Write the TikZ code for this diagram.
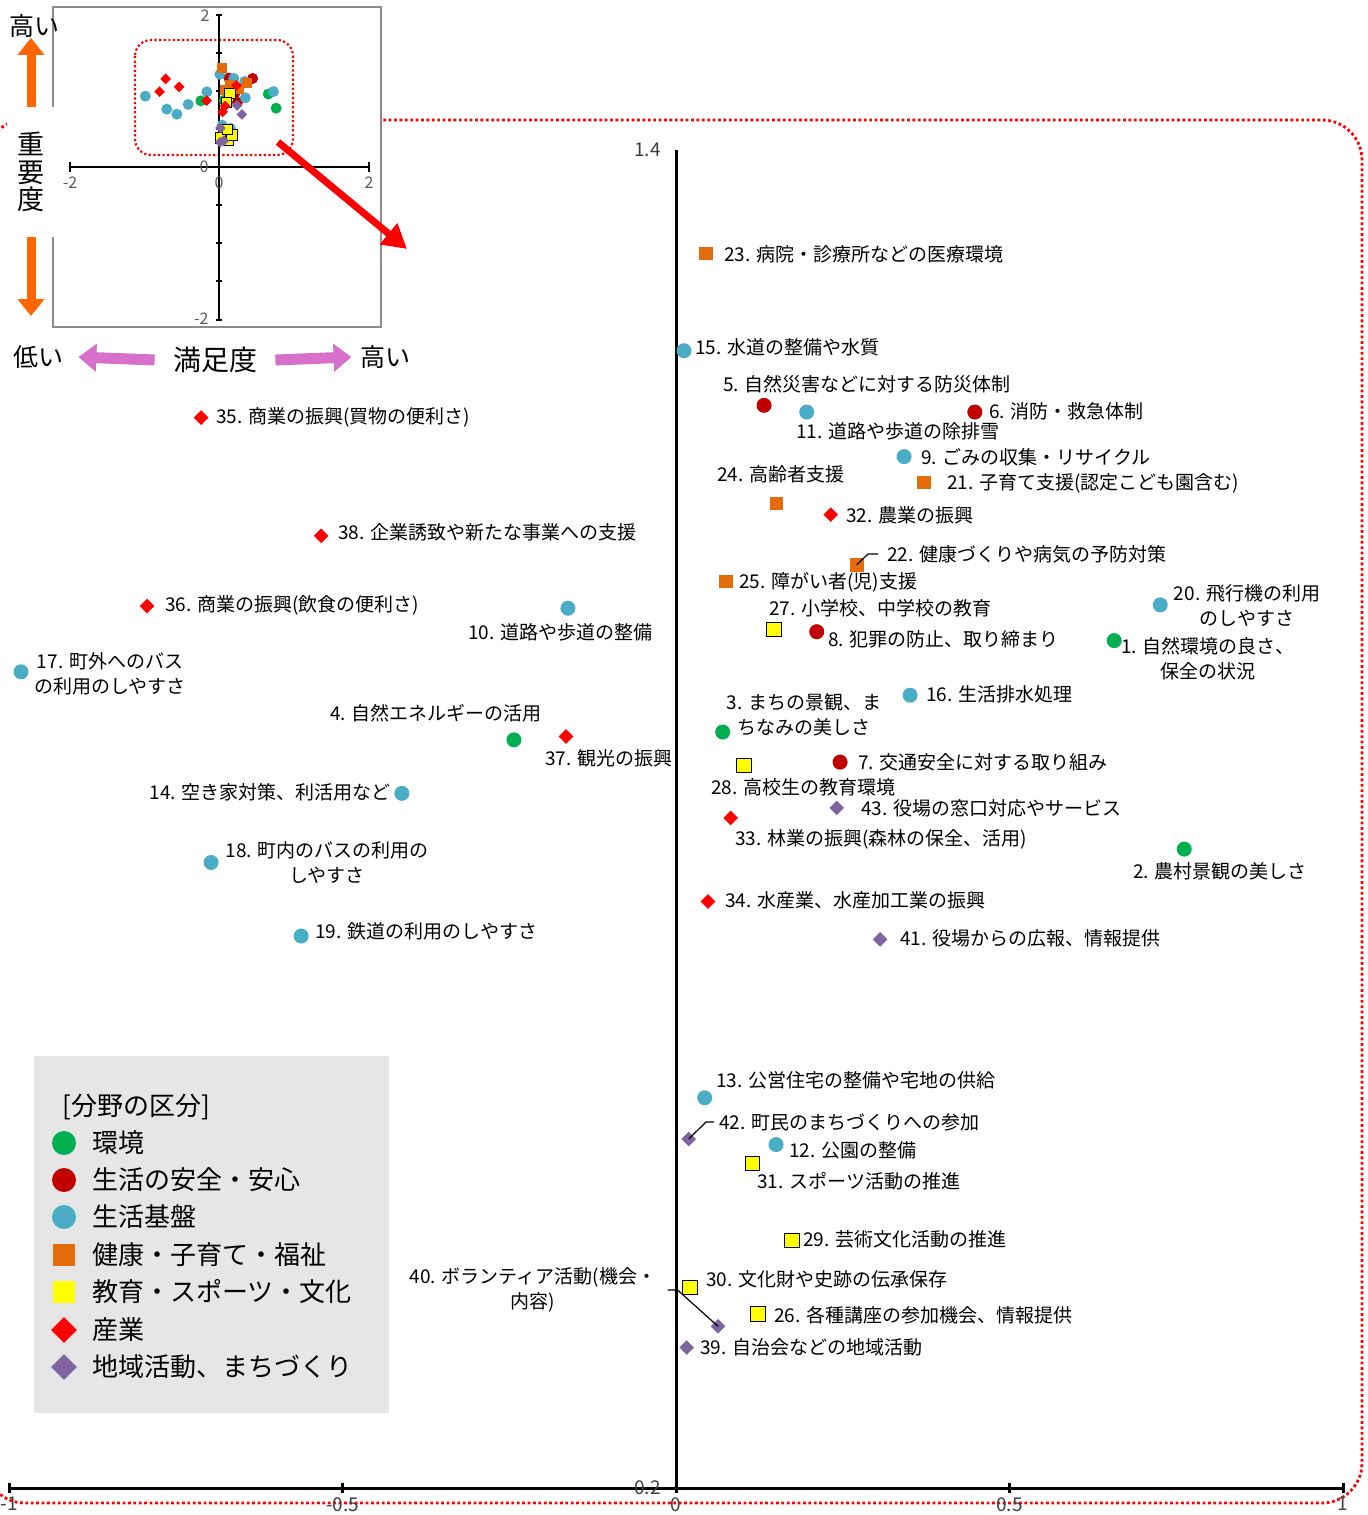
\documentclass[tikz,border=0pt]{standalone}
\usepackage{fontspec}
\setmainfont{Noto Sans CJK JP}
\usetikzlibrary{shapes.geometric,arrows.meta}

\definecolor{cEnv}{HTML}{00B050}
\definecolor{cSafe}{HTML}{C00000}
\definecolor{cBase}{HTML}{4BACC6}
\definecolor{cCare}{HTML}{E46C0A}
\definecolor{cEdu}{HTML}{FFFF00}
\definecolor{cInd}{HTML}{FF0000}
\definecolor{cCom}{HTML}{8064A2}
\definecolor{cKey}{HTML}{E7E6E6}
\definecolor{cUp}{HTML}{FF6600}
\definecolor{cSide}{HTML}{D670CB}

\def\mks{7.5pt}
% satisfaction / importance of the 43 items, drawn in main plot and inset
\newcommand\plotdata[1]{%
  \foreach \n/\sx/\im in {1/0.657/0.960,2/0.762/0.773,3/0.070/0.878,4/-0.243/0.871}
    \node[envpt] (#1\n) at (\sx,\im) {};
  \foreach \n/\sx/\im in {5/0.132/1.171,6/0.448/1.165,7/0.246/0.851,8/0.211/0.968}
    \node[safept] (#1\n) at (\sx,\im) {};
  \foreach \n/\sx/\im in {9/0.342/1.125,10/-0.162/0.989,11/0.196/1.165,12/0.150/0.508,
      13/0.043/0.550,14/-0.411/0.823,15/0.012/1.220,16/0.351/0.911,17/-0.982/0.932,
      18/-0.697/0.761,19/-0.562/0.695,20/0.726/0.992}
    \node[basept] (#1\n) at (\sx,\im) {};
  \foreach \n/\sx/\im in {21/0.372/1.102,22/0.271/1.028,23/0.045/1.307,24/0.151/1.083,25/0.075/1.013}
    \node[carept] (#1\n) at (\sx,\im) {};
  \foreach \n/\sx/\im in {26/0.123/0.356,27/0.147/0.970,28/0.102/0.848,29/0.174/0.422,
      30/0.021/0.380,31/0.115/0.491}
    \node[edupt] (#1\n) at (\sx,\im) {};
  \foreach \n/\sx/\im in {32/0.232/1.073,33/0.082/0.801,34/0.048/0.726,35/-0.712/1.160,
      36/-0.793/0.991,37/-0.165/0.874,38/-0.532/1.054}
    \node[indpt] (#1\n) at (\sx,\im) {};
  \foreach \n/\sx/\im in {39/0.016/0.326,40/0.063/0.345,41/0.306/0.692,42/0.019/0.513,43/0.241/0.810}
    \node[compt] (#1\n) at (\sx,\im) {};
}

\begin{document}
\begin{tikzpicture}[x=0.5pt,y=-0.5pt,
  dotframe/.style={draw=red,line width=1.4pt,dash pattern=on 1.4pt off 1.3pt},
  axisline/.style={line width=1.5pt},
  ticklbl/.style={inner sep=0pt,text=black!75,font=\fontsize{9.5pt}{11pt}\selectfont},
  insetnum/.style={inner sep=0pt,text=black!65,font=\fontsize{8pt}{9pt}\selectfont},
  lbl/.style={inner sep=0pt,font=\fontsize{9.5pt}{12.5pt}\selectfont},
  keytxt/.style={inner sep=0pt,anchor=west,font=\fontsize{13pt}{15pt}\selectfont},
  side/.style={inner sep=0pt,font=\fontsize{12.5pt}{14pt}\selectfont},
  leader/.style={line width=0.6pt},
  pt/.style={inner sep=0pt,minimum size=\mks},
  envpt/.style={pt,circle,fill=cEnv},
  safept/.style={pt,circle,fill=cSafe},
  basept/.style={pt,circle,fill=cBase},
  carept/.style={pt,rectangle,fill=cCare,minimum size=0.9*\mks},
  edupt/.style={pt,rectangle,fill=cEdu,draw=black,line width=0.5pt,minimum size=0.95*\mks},
  indpt/.style={pt,diamond,fill=cInd},
  compt/.style={pt,diamond,fill=cCom}]
  \useasboundingbox (0,0) rectangle (1368,1515);

  \draw [dotframe,rounded corners=20pt] (-15,120) rectangle (1362,1503);

  % inset: whole scatter
  \draw [fill=white,draw=black!45,line width=1pt] (53,7) rectangle (381,327);
  \draw [dotframe,line width=1.1pt,dash pattern=on 1.1pt off 1.2pt,rounded corners=8pt] (135,40) rectangle (293,155);
  \draw [line width=1pt] (219,15) -- (219,320);
  \draw [line width=1pt] (70,167) -- (369,167);
  \foreach \y in {15,53,91,129,205,243,281,320}
    \draw [line width=0.8pt] (216,\y) -- (222,\y);
  \draw [line width=0.8pt] (70,162) -- (70,172);
  \draw [line width=0.8pt] (369,162) -- (369,172);
  \node [insetnum,anchor=east] (iy2) at (210,16) {2};
  \node [insetnum,anchor=east] (iy0) at (209,167) {0};
  \node [insetnum,anchor=east] (iym2) at (209,319) {-2};
  \node [insetnum] (ix0) at (219,183) {0};
  \node [insetnum] (ixm2) at (70,183) {-2};
  \node [insetnum] (ix2) at (369,183) {2};
  \begin{scope}[shift={(219,167)},x=37.5pt,y=38pt]
    \def\mks{5.5pt}
    \plotdata{i}
  \end{scope}

  \coordinate (zoomtail) at (278,142);
  \coordinate (zoomhead) at (407,249);
  \draw [-{Triangle[width=13pt,length=12pt]},line width=3.5pt,red] (zoomtail) -- (zoomhead);

  \node [side] (hi) at (35,26) {高い};
  \node [fill=white,inner sep=0pt,minimum width=24pt,minimum height=65pt,align=center,
         font=\fontsize{13.5pt}{13.8pt}\selectfont] (imp) at (31,172) {重\\要\\度};
  \coordinate (impend) at (31,316);
  \draw [-{Triangle[width=13pt,length=8.5pt]},line width=4.5pt,cUp] (imp.north) -- (imp.north |- hi.south);
  \draw [-{Triangle[width=13pt,length=8.5pt]},line width=4.5pt,cUp] (imp.south) -- (impend);
  \node [side] (lo) at (38,357) {低い};
  \node [side,font=\fontsize{14pt}{16pt}\selectfont] (satis) at (215,360) {満足度};
  \node [side] (hi2) at (385,357) {高い};
  \draw [-{Triangle[width=13.5pt,length=9pt]},line width=5.5pt,cSide] ([xshift=-9pt]satis.west) -- ([xshift=7.5pt]lo.east);
  \draw [-{Triangle[width=13.5pt,length=9pt]},line width=5.5pt,cSide] ([xshift=9pt]satis.east) -- ([xshift=-4pt]hi2.west);

  % main plot
  \begin{scope}[shift={(676,1711)},x=333.5pt,y=557.5pt]
    \draw [axisline] (-1,0.2) -- (1,0.2);
    \draw [axisline] (0,0.2) -- (0,1.4);
    \foreach \t [count=\k] in {-1,-0.5,0,0.5,1}{
      \draw [axisline] (\t,0.2) ++(0,2.5pt) -- ++(0,-5pt);
      \node [ticklbl,anchor=north] (xt\k) at ([yshift=-4.5pt]\t,0.2) {\t};
    }
    \node [ticklbl,anchor=east] (yt1) at ([xshift=-7.5pt]0,1.4) {1.4};
    \node [ticklbl,anchor=east] (yt2) at ([xshift=-7.5pt]0,0.2) {0.2};
    \plotdata{m}
  \end{scope}

  \node [lbl,align=center] (t1) at (1208,659) {1. 自然環境の良さ、\\保全の状況};
  \node [lbl] (t2) at (1220,871) {2. 農村景観の美しさ};
  \node [lbl,align=center] (t3) at (804,715) {3. まちの景観、ま\\ちなみの美しさ};
  \node [lbl] (t4) at (436,713) {4. 自然エネルギーの活用};
  \node [lbl,anchor=west] (t5) at (723,384) {5. 自然災害などに対する防災体制};
  \node [lbl,anchor=west] (t6) at (989,411) {6. 消防・救急体制};
  \node [lbl,anchor=west] (t7) at (858,762) {7. 交通安全に対する取り組み};
  \node [lbl,anchor=west] (t8) at (828,639) {8. 犯罪の防止、取り締まり};
  \node [lbl,anchor=west] (t9) at (921,457) {9. ごみの収集・リサイクル};
  \node [lbl,anchor=west] (t10) at (468,632) {10. 道路や歩道の整備};
  \node [lbl,anchor=west] (t11) at (796,431) {11. 道路や歩道の除排雪};
  \node [lbl,anchor=west] (t12) at (789,1150) {12. 公園の整備};
  \node [lbl,anchor=west] (t13) at (716,1080) {13. 公営住宅の整備や宅地の供給};
  \node [lbl,anchor=east] (t14) at (391,792) {14. 空き家対策、利活用など};
  \node [lbl,anchor=west] (t15) at (695,347) {15. 水道の整備や水質};
  \node [lbl,anchor=west] (t16) at (926,694) {16. 生活排水処理};
  \node [lbl,align=center] (t17) at (110,674) {17. 町外へのバス\\の利用のしやすさ};
  \node [lbl,align=center] (t18) at (327,863) {18. 町内のバスの利用の\\しやすさ};
  \node [lbl,anchor=west] (t19) at (315,931) {19. 鉄道の利用のしやすさ};
  \node [lbl,align=center] (t20) at (1247,606) {20. 飛行機の利用\\のしやすさ};
  \node [lbl,anchor=west] (t21) at (947,483) {21. 子育て支援(認定こども園含む)};
  \node [lbl,anchor=west] (t22) at (887,554) {22. 健康づくりや病気の予防対策};
  \node [lbl,anchor=west] (t23) at (724,254) {23. 病院・診療所などの医療環境};
  \node [lbl,anchor=west] (t24) at (717,474) {24. 高齢者支援};
  \node [lbl,anchor=west] (t25) at (739,582) {25. 障がい者(児)支援};
  \node [lbl,anchor=west] (t26) at (774,1315) {26. 各種講座の参加機会、情報提供};
  \node [lbl,anchor=west] (t27) at (769,608) {27. 小学校、中学校の教育};
  \node [lbl,anchor=west] (t28) at (711,787) {28. 高校生の教育環境};
  \node [lbl,anchor=west] (t29) at (803,1239) {29. 芸術文化活動の推進};
  \node [lbl,anchor=west] (t30) at (706,1279) {30. 文化財や史跡の伝承保存};
  \node [lbl,anchor=west] (t31) at (757,1181) {31. スポーツ活動の推進};
  \node [lbl,anchor=west] (t32) at (846,515) {32. 農業の振興};
  \node [lbl,anchor=west] (t33) at (735,839) {33. 林業の振興(森林の保全、活用)};
  \node [lbl,anchor=west] (t34) at (725,900) {34. 水産業、水産加工業の振興};
  \node [lbl,anchor=west] (t35) at (216,417) {35. 商業の振興(買物の便利さ)};
  \node [lbl,anchor=west] (t36) at (165,605) {36. 商業の振興(飲食の便利さ)};
  \node [lbl,anchor=west] (t37) at (545,758) {37. 観光の振興};
  \node [lbl,anchor=west] (t38) at (338,532) {38. 企業誘致や新たな事業への支援};
  \node [lbl,anchor=west] (t39) at (700,1347) {39. 自治会などの地域活動};
  \node [lbl,align=center] (t40) at (533,1290) {40. ボランティア活動(機会・\\内容)};
  \node [lbl,anchor=west] (t41) at (900,938) {41. 役場からの広報、情報提供};
  \node [lbl,anchor=west] (t42) at (719,1122) {42. 町民のまちづくりへの参加};
  \node [lbl,anchor=west] (t43) at (861,808) {43. 役場の窓口対応やサービス};

  \draw [leader] (m22.center) -- ([xshift=-9.5pt]t22.west) -- ([xshift=-4.5pt]t22.west);
  \draw [leader] (m42.center) -- ([xshift=-6.5pt]t42.west) -- ([xshift=-2.5pt]t42.west);
  \draw [leader] ([xshift=5.5pt]t40.east) -- ([xshift=10.5pt]t40.east) -- (m40.center);

  % legend
  \node [fill=cKey,inner sep=0pt,minimum width=177.5pt,minimum height=178.5pt] (keybox) at (211.5,1234.5) {};
  \begin{scope}
    \def\mks{12pt}
    \node [keytxt] (keytitle) at (62,1107) {[分野の区分]};
    \node [envpt] (k1) at (64,1143) {};
    \node [keytxt] (kt1) at (92,1143) {環境};
    \node [safept] (k2) at (64,1180) {};
    \node [keytxt] (kt2) at (92,1180) {生活の安全・安心};
    \node [basept] (k3) at (64,1217) {};
    \node [keytxt] (kt3) at (92,1217) {生活基盤};
    \node [carept] (k4) at (64,1255) {};
    \node [keytxt] (kt4) at (92,1255) {健康・子育て・福祉};
    \node [edupt,draw=none] (k5) at (64,1292) {};
    \node [keytxt] (kt5) at (92,1292) {教育・スポーツ・文化};
    \node [indpt,minimum size=13pt] (k6) at (64,1330) {};
    \node [keytxt] (kt6) at (92,1330) {産業};
    \node [compt,minimum size=13pt] (k7) at (64,1367) {};
    \node [keytxt] (kt7) at (92,1367) {地域活動、まちづくり};
  \end{scope}
\end{tikzpicture}
\end{document}
